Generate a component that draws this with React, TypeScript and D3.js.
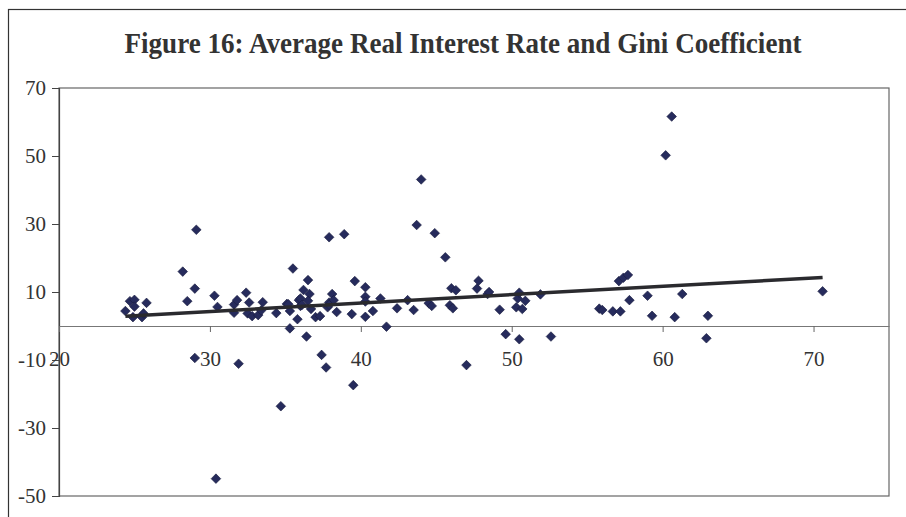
import React, { useEffect, useRef } from 'react';
import * as d3 from 'd3';

// Gini coefficient (x) and average real interest rate (y)
const gini = [
  24.4, 24.7, 25.0, 25.0, 24.9, 25.5, 25.6, 25.8, 28.2, 28.5,
  29.0, 29.1, 29.0, 30.3, 30.5, 30.4, 31.6, 31.8, 31.6, 31.9,
  32.4, 32.6, 32.5, 32.8, 33.2, 33.5, 33.4, 34.4, 34.7, 35.1,
  35.3, 35.3, 35.5, 35.9, 35.8, 36.0, 36.0, 36.2, 36.5, 36.6,
  36.5, 36.4, 36.7, 37.0, 37.3, 37.4, 37.7, 37.8, 37.9, 37.9,
  38.1, 38.2, 38.4, 38.9, 39.4, 39.5, 39.6, 40.3, 40.3, 40.3,
  40.3, 40.8, 41.3, 41.7, 42.4, 43.1, 43.5, 43.7, 44.0, 44.5,
  44.7, 44.9, 45.6, 45.9, 46.0, 46.1, 46.3, 47.0, 47.7, 47.8,
  48.4, 48.5, 49.2, 49.6, 50.3, 50.4, 50.5, 50.5, 50.7, 50.9,
  51.9, 52.6, 55.8, 56.0, 56.7, 57.1, 57.2, 57.4, 57.7, 57.8,
  59.0, 59.3, 60.2, 60.6, 60.8, 61.3, 62.9, 63.0, 70.6, 36.1,
  37.9, 35.2,
];
const rate = [
  4.4, 7.3, 7.7, 5.7, 2.6, 2.6, 3.7, 6.8, 16.0, 7.3,
  11.0, 28.3, -9.4, 8.9, 5.6, -44.9, 6.3, 7.6, 3.9, -11.1,
  9.8, 6.9, 3.7, 2.9, 3.2, 7.0, 4.6, 3.8, -23.6, 6.5,
  4.4, -0.7, 16.9, 7.6, 2.0, 5.9, 8.1, 10.6, 13.5, 9.4,
  7.4, -3.1, 5.0, 2.6, 2.9, -8.5, -12.2, 5.5, 6.9, 26.1,
  9.4, 7.6, 4.1, 27.0, 3.5, -17.4, 13.2, 11.4, 8.6, 7.2,
  2.7, 4.4, 8.1, -0.2, 5.2, 7.6, 4.7, 29.7, 43.1, 6.7,
  5.9, 27.3, 20.2, 6.1, 11.1, 5.2, 10.5, -11.5, 11.0, 13.3,
  9.4, 10.0, 4.8, -2.4, 5.5, 8.1, 9.8, -3.9, 5.0, 7.4,
  9.3, -3.1, 5.1, 4.7, 4.3, 13.2, 4.3, 14.2, 15.0, 7.6,
  8.9, 3.0, 50.2, 61.6, 2.6, 9.4, -3.6, 3.0, 10.2, 6.2,
  6.2, 6.4,
];

// linear trend line end points
const trendX = [24.4, 70.6];
const trendY = [2.9, 14.3];

const xTicks = [20, 30, 40, 50, 60, 70];
const yTicks = [70, 50, 30, 10, -10, -30, -50];

const title = 'Figure 16: Average Real Interest Rate and Gini Coefficient';

const App: React.FC = () => {
  const svgRef = useRef<SVGSVGElement>(null);

  useEffect(() => {
    if (!svgRef.current) return;
    const W = 906;
    const H = 517;
    const plot = { left: 59, right: 889, top: 88, bottom: 496 };
    const font = '"Liberation Serif", "Times New Roman", serif';

    const svg = d3.select(svgRef.current)
      .attr('width', W)
      .attr('height', H)
      .html('');

    svg.append('rect')
      .attr('width', W).attr('height', H)
      .attr('fill', '#fff');

    // outer chart border
    svg.append('rect')
      .attr('x', 8.5).attr('y', 9.5)
      .attr('width', W).attr('height', H)
      .attr('fill', 'none')
      .attr('stroke', '#333')
      .attr('stroke-width', 1.2);

    svg.append('text')
      .attr('x', 463)
      .attr('y', 53)
      .attr('text-anchor', 'middle')
      .attr('textLength', 677)
      .attr('lengthAdjust', 'spacingAndGlyphs')
      .style('font-family', font)
      .style('font-weight', 'bold')
      .style('font-size', '29px')
      .style('fill', '#333')
      .text(title);

    const x = d3.scaleLinear().domain([20, 75]).range([plot.left, plot.right]);
    const y = d3.scaleLinear().domain([-50, 70]).range([plot.bottom, plot.top]);

    // plot frame
    svg.append('rect')
      .attr('x', plot.left).attr('y', plot.top)
      .attr('width', plot.right - plot.left)
      .attr('height', plot.bottom - plot.top)
      .attr('fill', 'none')
      .attr('stroke', '#666')
      .attr('stroke-width', 1.2);

    const fmt = (d: d3.NumberValue) => String(d);

    // Y axis
    const yAxis = svg.append('g')
      .attr('transform', `translate(${plot.left},0)`)
      .call(d3.axisLeft(y).tickValues(yTicks).tickSize(7).tickPadding(6).tickFormat(fmt));
    yAxis.select('.domain').attr('stroke', '#444').attr('stroke-width', 1.2);
    yAxis.selectAll('.tick line').attr('stroke', '#444');
    yAxis.selectAll('.tick text')
      .style('font-family', font)
      .style('font-size', '21px')
      .attr('fill', '#333');

    // X axis across y = 0
    const xAxis = svg.append('g')
      .attr('transform', `translate(0,${y(0)})`)
      .call(d3.axisBottom(x).tickValues(xTicks).tickSize(6).tickSizeOuter(0).tickPadding(19).tickFormat(fmt));
    xAxis.select('.domain').attr('stroke', '#777').attr('stroke-width', 1.2);
    xAxis.selectAll('.tick line').attr('stroke', '#666');
    xAxis.selectAll('.tick text')
      .style('font-family', font)
      .style('font-size', '21px')
      .attr('fill', '#333');

    // points
    const diamond = d3.symbol().type(d3.symbolSquare).size(46);
    svg.append('g')
      .selectAll('path')
      .data(d3.range(gini.length))
      .join('path')
      .attr('d', diamond)
      .attr('transform', i => `translate(${x(gini[i])},${y(rate[i])}) rotate(45)`)
      .attr('fill', '#262b5c')
      .attr('stroke', '#1a1d40')
      .attr('stroke-width', 0.6);

    // trend line
    const line = d3.line<number>()
      .x(i => x(trendX[i]))
      .y(i => y(trendY[i]));
    svg.append('path')
      .attr('d', line([0, 1]))
      .attr('fill', 'none')
      .attr('stroke', '#2a2a2e')
      .attr('stroke-width', 3.5);
  }, []);

  return (
    <div style={{ position: 'absolute', left: 0, top: 0 }}>
      <svg ref={svgRef} style={{ display: 'block' }} />
    </div>
  );
};

export default App;
